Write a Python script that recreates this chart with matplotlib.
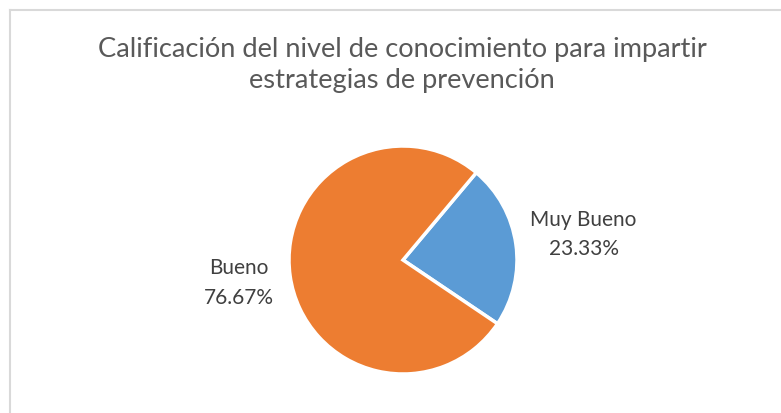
import numpy as np
import matplotlib
matplotlib.use("Agg")
import matplotlib.pyplot as plt
from matplotlib.lines import Line2D

# chart data
categories = ["Muy Bueno", "Bueno"]
percentages = [23.33, 76.67]
colors = ["#5B9BD5", "#ED7D31"]
title = "Calificación del nivel de conocimiento para impartir\nestrategias de prevención"

plt.rcParams["font.family"] = ["Lato", "DejaVu Sans"]
W, H = 781, 413
fig = plt.figure(figsize=(W / 100, H / 100), dpi=100)

# light gray frame (top and left visible)
fig.add_artist(Line2D([10 / W, 1], [1 - 10 / H, 1 - 10 / H], color="#d9d9d9", lw=1.5))
fig.add_artist(Line2D([10 / W, 10 / W], [0, 1 - 10 / H], color="#d9d9d9", lw=1.5))

fig.text(402 / W, 1 - 65 / H, title, ha="center", va="center", fontsize=19.6,
         color="#595959", linespacing=1.3)

cx, cy, r = 403, 260, 114
ax = fig.add_axes([(cx - r) / W, (H - cy - r) / H, 2 * r / W, 2 * r / H])
wedges, _ = ax.pie(percentages, colors=colors, startangle=50, counterclock=False,
                   wedgeprops=dict(edgecolor="white", linewidth=2.5))
ax.set_xlim(-1, 1)
ax.set_ylim(-1, 1)
ax.set_aspect("equal")
ax.axis("off")

dists = [1.6, 1.45]
for w, cat, p, d in zip(wedges, categories, percentages, dists):
    mid = np.deg2rad((w.theta1 + w.theta2) / 2)
    ax.text(d * np.cos(mid), d * np.sin(mid), f"{cat}\n{p:.2f}%", ha="center",
            va="center", fontsize=15, color="#404040", linespacing=1.6, clip_on=False)

fig.savefig("out.png", dpi=100)
